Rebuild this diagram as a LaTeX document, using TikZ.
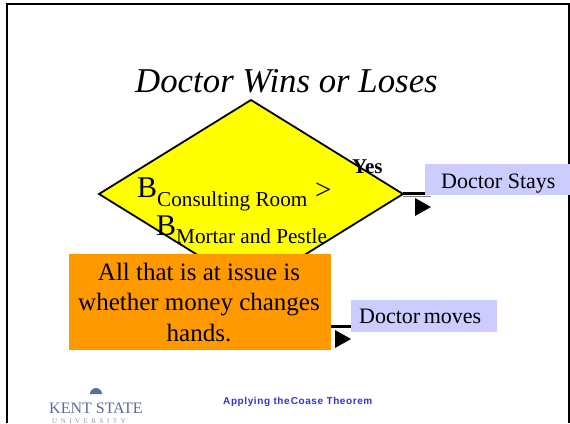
\documentclass[tikz,border=0pt]{standalone}
\usepackage{fontspec}
\usetikzlibrary{shapes.geometric}
\setmainfont{Liberation Serif}
\newfontfamily\arialf[LetterSpace=6]{Liberation Sans}
\definecolor{lav}{HTML}{CCCCFF}
\definecolor{org}{HTML}{FF9900}
\definecolor{ftblue}{HTML}{3333CC}
\definecolor{logoc}{HTML}{5C6C9C}
\definecolor{diayel}{HTML}{FFFF00}
\tikzset{
  labbox/.style={fill=lav,inner sep=0pt,anchor=north west},
  wire/.style={line width=3pt},
  tip/.style={fill=black,draw=none},
  free/.style={inner sep=0pt,anchor=base west},
  labtext/.style={free,font=\fontsize{22}{24}\selectfont}
}
\begin{document}
\begin{tikzpicture}[x=1pt,y=-1pt]
\useasboundingbox (0,0) rectangle (570,423);
\fill[white] (0,0) rectangle (570,423);
% frame
\draw[line width=2pt] (7,423) -- (7,4) -- (569,4) -- (569,423);
% title
\node[free] (title) at (135,92) {\fontsize{34.8}{38}\selectfont\itshape Doctor Wins or Loses};
% decision diamond
\node[diamond,draw=black,line width=1.8pt,fill=diayel,inner sep=0pt,outer sep=0pt,aspect=1.617,minimum width=304pt,minimum height=188pt] (dec) at (251,194) {};
% text in diamond
\node[free,font=\fontsize{30}{30}\selectfont] (b1) at (137,197) {B};
\node[free,font=\fontsize{21.2}{22}\selectfont] (s1) at (157,206) {Consulting Room};
\node[free,font=\fontsize{29}{30}\selectfont] (gt) at (315,199) {>};
\node[free,font=\fontsize{30}{30}\selectfont] (b2) at (156,235) {B};
\node[free,font=\fontsize{21.2}{22}\selectfont] (s2) at (176,243) {Mortar and Pestle};
\node[free,font=\fontsize{21}{22}\selectfont\bfseries] (yes) at (352,173) {Yes};
% outcome boxes
\draw[gray,line width=0.8pt] (403,196) -- (431,196);
\node[labbox,minimum width=145pt,minimum height=31pt] (stay) at (425,164) {};
\node[labtext] (stayt) at (441,188) {Doctor Stays};
\node[labbox,minimum width=146pt,minimum height=32pt] (move) at (351,300) {};
\node[labtext] (movet) at (359,323) {Doctor\hspace{3.5pt}moves};
% issue box
\node[fill=org,inner sep=0pt,anchor=north west,minimum width=262pt,minimum height=96pt] (issue) at (69,254) {};
\node[inner sep=0pt,align=center,font=\fontsize{25}{30.5}\selectfont] (issuet) at (199,302) {All that is at issue is\\whether money changes\\hands.};
% connectors
\coordinate (uprow) at (414,193.5);
\draw[wire] (uprow -| dec.east) -- (uprow -| stay.west);
\coordinate (lowrow) at (341,326);
\draw[wire] (lowrow -| issue.east) -- (lowrow -| move.west);
\coordinate (t1) at (415,198);
\fill[tip] (t1) -- (431,207) -- (415,216) -- cycle;
\coordinate (t2) at (335,330);
\fill[tip] (t2) -- (351,339) -- (335,348) -- cycle;
% footer
\node[free,text=logoc,font=\fontsize{16}{18}\selectfont] (logo) at (49,413) {KENT STATE};
\fill[logoc] (90,394) arc[start angle=180,end angle=0,radius=6pt] -- cycle;
\begin{scope}
\clip (40,414) rectangle (150,423);
\node[free,text=logoc!70,font=\fontsize{7}{8}\selectfont] (uni) at (52,423) {U\,\,\,N\,\,\,I\,\,\,V\,\,\,E\,\,\,R\,\,\,S\,\,\,I\,\,\,T\,\,\,Y};
\end{scope}
\node[free,text=ftblue,font=\fontsize{10}{11}\selectfont\arialf\bfseries] (foot) at (223,404) {Applying the\hspace{1pt}Coase Theorem};
\end{tikzpicture}
\end{document}
